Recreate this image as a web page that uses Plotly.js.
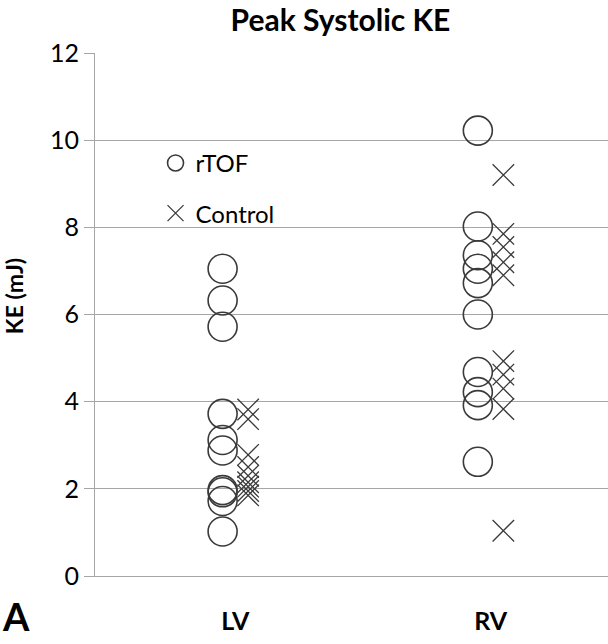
<!DOCTYPE html>
<html>
<head>
<meta charset="utf-8">
<script src="https://cdn.plot.ly/plotly-3.0.1.min.js"></script>
<style>html,body{margin:0;padding:0;background:#fff;}#chart{width:608px;height:644px;}</style>
</head>
<body>
<div id="chart"></div>
<script>
// Categories and values (KE in mJ)
const categories = ['LV', 'RV'];
const rtofLV = [7.05, 6.32, 5.72, 3.72, 3.12, 2.88, 1.97, 1.92, 1.72, 1.02];
const rtofRV = [10.22, 8.02, 7.36, 7.05, 6.72, 6.0, 4.68, 4.22, 3.92, 2.62];
const controlLV = [3.82, 3.6, 2.78, 2.5, 2.3, 2.15, 2.05, 1.95, 1.85];
const controlRV = [9.2, 7.85, 7.55, 7.2, 6.9, 4.93, 4.62, 4.3, 3.83, 1.04];
const seriesNames = ['rTOF', 'Control'];
const yTicks = [0, 2, 4, 6, 8, 10, 12];

const catPos = categories.map((c, i) => i + 1);
function xs(catIndex, n, offset) {
  return Array(n).fill(catPos[catIndex] + offset);
}

const markColor = '#3a3a3a';
const FONT = 'Lato, "Open Sans", sans-serif';

const traceRtof = {
  type: 'scatter', mode: 'markers', name: seriesNames[0], legendgroup: 'a',
  x: xs(0, rtofLV.length, -0.05).concat(xs(1, rtofRV.length, -0.05)),
  y: rtofLV.concat(rtofRV),
  marker: { symbol: 'circle-open', size: 29, color: markColor, line: { width: 1.6, color: markColor } },
  hoverinfo: 'y'
};
const traceControl = {
  type: 'scatter', mode: 'markers', name: seriesNames[1], legendgroup: 'b',
  x: xs(0, controlLV.length, 0.05).concat(xs(1, controlRV.length, 0.05)),
  y: controlLV.concat(controlRV),
  marker: { symbol: 'x-thin-open', size: 21.5, color: markColor, line: { width: 1.3, color: markColor } },
  hoverinfo: 'y'
};

const layout = {
  width: 608, height: 644,
  margin: { l: 95, r: 0, t: 53, b: 68 },
  paper_bgcolor: '#fff', plot_bgcolor: '#fff',
  font: { family: FONT, color: '#000' },
  title: { text: '<b>Peak Systolic KE</b>', font: { size: 30, family: FONT, color: '#000' }, x: 0.56, xanchor: 'center', yref: 'container', y: 0.968, yanchor: 'middle' },
  showlegend: true,
  legend: { x: 0.118, y: 0.832, xanchor: 'left', yanchor: 'top', font: { size: 24, family: FONT, color: '#000' }, traceorder: 'grouped', tracegroupgap: 16, bgcolor: 'rgba(0,0,0,0)' },
  xaxis: {
    range: [0.45, 2.46], tickvals: catPos, ticktext: categories.map(c => '<b>' + c + '</b>'),
    ticks: '', showgrid: false, zeroline: false, showline: true, linecolor: '#a6a6a6', linewidth: 1,
    tickfont: { size: 25, family: FONT, color: '#000' }, ticklabelstandoff: 23, fixedrange: true
  },
  yaxis: {
    range: [0, 12], tickvals: yTicks, ticks: 'outside', ticklen: 10, tickcolor: '#a6a6a6', tickwidth: 1,
    showgrid: true, gridcolor: '#a6a6a6', gridwidth: 1, zeroline: false, showline: true, linecolor: '#a6a6a6', linewidth: 1,
    tickfont: { size: 25, family: FONT, color: '#000' }, fixedrange: true
  },
  annotations: [
    {
      text: '<b>KE (mJ)</b>', textangle: -90, xref: 'paper', yref: 'paper', x: -0.158, y: 0.535, xanchor: 'center', yanchor: 'middle',
      showarrow: false, font: { size: 23, family: FONT, color: '#000' }
    },
    {
      text: '<b>A</b>', xref: 'paper', yref: 'paper', x: -0.185, y: -0.028, xanchor: 'left', yanchor: 'top',
      showarrow: false, font: { size: 38, family: FONT, color: '#000' }
    }
  ]
};

Plotly.newPlot('chart', [traceRtof, traceControl], layout, { displayModeBar: false, staticPlot: true });
</script>
</body>
</html>
